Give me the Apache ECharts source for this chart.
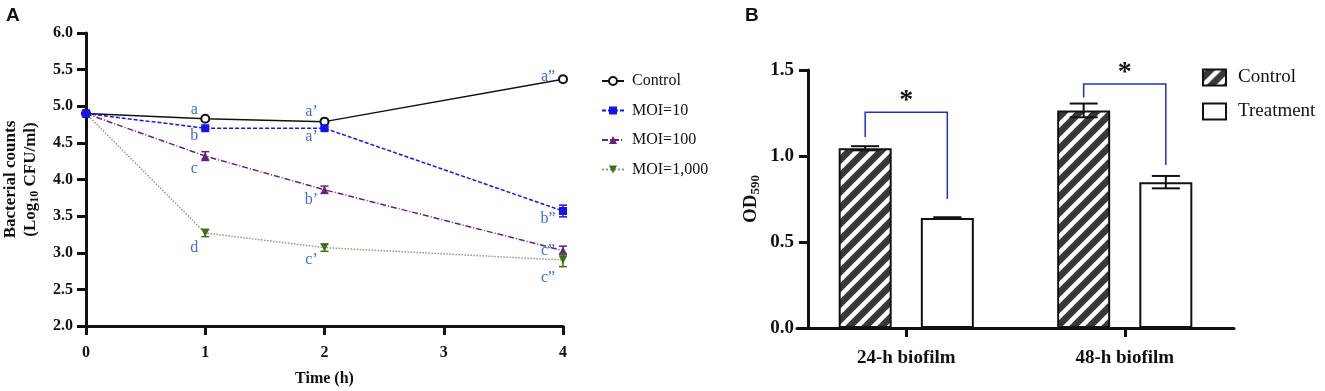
<!DOCTYPE html>
<html>
<head>
<meta charset="utf-8">
<script src="https://cdn.jsdelivr.net/npm/echarts@6/dist/echarts.min.js"></script>
<style>
  html, body { margin: 0; padding: 0; background: #fff; }
  #main { width: 1325px; height: 391px; }
</style>
</head>
<body>
<div id="main"></div>
<script>
// panel A - bacterial counts over time
const times = [0, 1, 2, 4]
const controlMean = [4.9, 4.83, 4.79, 5.37]
const moi10Mean = [4.9, 4.70, 4.70, 3.57]
const moi100Mean = [4.9, 4.32, 3.86, 3.03]
const moi1000Mean = [4.9, 3.27, 3.07, 2.90]
const controlSd = [0, 0, 0, 0]
const moi10Sd = [0, 0.02, 0.02, 0.08]
const moi100Sd = [0, 0.06, 0.05, 0.06]
const moi1000Sd = [0, 0.05, 0.05, 0.09]
const controlLetters = ['', 'a', 'a’', 'a”']
const moi10Letters = ['', 'b', 'a’', 'b”']
const moi100Letters = ['', 'c', 'b’', 'c”']
const moi1000Letters = ['', 'd', 'c’', 'c”']
const yTicksA = [2, 6, 0.5]

// panel B - biofilm OD590
const biofilmCats = ['24-h biofilm', '48-h biofilm']
const odControl = [1.045, 1.265]
const odControlSd = [0.012, 0.04]
const odTreatment = [0.64, 0.848]
const odTreatmentSd = [0.004, 0.036]
const bracketLeft = [1.11, 1.34]
const bracketTop = [1.255, 1.418]
const bracketRight = [0.75, 0.948]
const sigMarks = ['*', '*']

// layout (px)
const SERIF = 'Liberation Serif'
const letterColor = '#3a6fd6'
const letterOffsets = [
  [[0, 0], [-11, -9], [-13, -10], [-15, -2]],
  [[0, 0], [-11, 8], [-13, 9], [-15, 8]],
  [[0, 0], [-11, 13], [-13, 10], [-15, 0]],
  [[0, 0], [-11, 15], [-13, 12], [-15, 18]]
]
const barW = 53
const barGap = 0.55
const barOffset = barW * (1 + barGap) / 2
const capA = 4
const capB = 14

function hatch () {
  const c = document.createElement('canvas')
  c.width = 16
  c.height = 16
  const g = c.getContext('2d')
  g.fillStyle = '#383838'
  g.fillRect(0, 0, 16, 16)
  g.strokeStyle = '#ffffff'
  g.lineWidth = 4.5
  for (let k = -16; k <= 16; k += 16) {
    g.beginPath()
    g.moveTo(k - 2, 18)
    g.lineTo(k + 18, -2)
    g.stroke()
  }
  return c
}

function lineSeries (name, mean, letters, offs, color, lineType, symbol, symbolRotate, lineColor) {
  return {
    name: name,
    type: 'line',
    xAxisIndex: 0,
    yAxisIndex: 0,
    data: times.map((t, i) => ({
      value: [t, mean[i]],
      label: { show: letters[i] !== '', offset: offs[i] }
    })),
    symbol: symbol,
    symbolSize: 8,
    symbolRotate: symbolRotate,
    itemStyle: { color: color, borderColor: color, borderWidth: symbol === 'emptyCircle' ? 1.5 : 0 },
    lineStyle: { color: lineColor || color, width: 1.5, type: lineType },
    label: {
      position: 'inside',
      color: letterColor,
      fontFamily: SERIF,
      fontSize: 16,
      formatter: p => letters[p.dataIndex]
    },
    emphasis: { disabled: true },
    z: 3
  }
}

function errSeriesA (mean, sd, color) {
  return {
    type: 'custom',
    xAxisIndex: 0,
    yAxisIndex: 0,
    encode: { x: 0, y: [1, 2] },
    data: times.map((t, i) => [t, mean[i] - sd[i], mean[i] + sd[i]]).filter((d, i) => sd[i] > 0),
    renderItem: (params, api) => {
      const lo = api.coord([api.value(0), api.value(1)])
      const hi = api.coord([api.value(0), api.value(2)])
      const st = { stroke: color, lineWidth: 1.5 }
      return {
        type: 'group',
        children: [
          { type: 'line', shape: { x1: lo[0], y1: lo[1], x2: hi[0], y2: hi[1] }, style: st },
          { type: 'line', shape: { x1: lo[0] - capA, y1: lo[1], x2: lo[0] + capA, y2: lo[1] }, style: st },
          { type: 'line', shape: { x1: hi[0] - capA, y1: hi[1], x2: hi[0] + capA, y2: hi[1] }, style: st }
        ]
      }
    },
    z: 4
  }
}

function errSeriesB (mean, sd, side) {
  return {
    type: 'custom',
    xAxisIndex: 1,
    yAxisIndex: 1,
    encode: { x: 0, y: [1, 2] },
    data: mean.map((m, i) => [i, m - sd[i], m + sd[i]]),
    renderItem: (params, api) => {
      const lo = api.coord([api.value(0), api.value(1)])
      const hi = api.coord([api.value(0), api.value(2)])
      const x = lo[0] + side * barOffset
      const st = { stroke: '#111', lineWidth: 2 }
      return {
        type: 'group',
        children: [
          { type: 'line', shape: { x1: x, y1: lo[1], x2: x, y2: hi[1] }, style: st },
          { type: 'line', shape: { x1: x - capB, y1: lo[1], x2: x + capB, y2: lo[1] }, style: st },
          { type: 'line', shape: { x1: x - capB, y1: hi[1], x2: x + capB, y2: hi[1] }, style: st }
        ]
      }
    },
    z: 5
  }
}

const chart = echarts.init(document.getElementById('main'))
const axisLine = { show: true, lineStyle: { color: '#111', width: 3 } }
const axisTick = { show: true, length: 9, lineStyle: { color: '#111', width: 3 } }
const tickFont = { color: '#111', fontFamily: SERIF, fontWeight: 'bold', fontSize: 16 }

chart.setOption({
  animation: false,
  title: [
    { text: 'A', left: 1, top: 1, textStyle: { fontFamily: 'Liberation Sans', fontWeight: 'bold', fontSize: 19, color: '#111' } },
    { text: 'B', left: 740, top: 1, textStyle: { fontFamily: 'Liberation Sans', fontWeight: 'bold', fontSize: 19, color: '#111' } }
  ],
  grid: [
    { left: 86, top: 33, width: 477, height: 293, outerBoundsMode: 'none' },
    { left: 797, top: 70, width: 437, height: 258, outerBoundsMode: 'none' }
  ],
  legend: [
    {
      orient: 'vertical',
      left: 596,
      top: 68,
      itemWidth: 22,
      itemHeight: 10,
      itemGap: 13.5,
      data: ['Control', 'MOI=10', 'MOI=100', 'MOI=1,000'],
      textStyle: { fontFamily: SERIF, fontSize: 16, color: '#111', padding: [0, 0, 0, 3] }
    },
    {
      orient: 'vertical',
      left: 1197,
      top: 63,
      itemWidth: 23,
      itemHeight: 16,
      itemGap: 15,
      icon: 'rect',
      data: ['Control ', 'Treatment'],
      textStyle: { fontFamily: SERIF, fontSize: 19, color: '#111', padding: [0, 0, 0, 7] }
    }
  ],
  xAxis: [
    {
      gridIndex: 0,
      type: 'value',
      min: 0,
      max: 4,
      interval: 1,
      name: 'Time (h)',
      nameLocation: 'middle',
      nameGap: 45,
      nameTextStyle: { fontFamily: SERIF, fontWeight: 'bold', fontSize: 16, color: '#111' },
      axisLine: axisLine,
      axisTick: axisTick,
      splitLine: { show: false },
      axisLabel: Object.assign({ margin: 19 }, tickFont)
    },
    {
      gridIndex: 1,
      type: 'category',
      data: biofilmCats,
      axisLine: axisLine,
      axisTick: Object.assign({ alignWithLabel: true }, axisTick),
      axisLabel: Object.assign({}, tickFont, { fontSize: 19, margin: 21 })
    }
  ],
  yAxis: [
    {
      gridIndex: 0,
      type: 'value',
      min: yTicksA[0],
      max: yTicksA[1],
      interval: yTicksA[2],
      name: '{b|Bacterial counts}\n{b|(Log}{s|10}{b| CFU/ml)}',
      nameLocation: 'middle',
      nameGap: 45,
      nameTextStyle: {
        rich: {
          b: { fontFamily: SERIF, fontWeight: 'bold', fontSize: 17, color: '#111', lineHeight: 20 },
          s: { fontFamily: SERIF, fontWeight: 'bold', fontSize: 12, color: '#111', padding: [8, 0, 0, 0] }
        }
      },
      axisLine: axisLine,
      axisTick: axisTick,
      splitLine: { show: false },
      axisLabel: Object.assign({ margin: 13, formatter: v => v.toFixed(1) }, tickFont)
    },
    {
      gridIndex: 1,
      type: 'value',
      min: 0,
      max: 1.5,
      interval: 0.5,
      offset: -11,
      name: '{b|OD}{s|590}',
      nameLocation: 'middle',
      nameGap: 46,
      nameTextStyle: {
        rich: {
          b: { fontFamily: SERIF, fontWeight: 'bold', fontSize: 19, color: '#111' },
          s: { fontFamily: SERIF, fontWeight: 'bold', fontSize: 13, color: '#111', padding: [9, 0, 0, 0] }
        }
      },
      axisLine: axisLine,
      axisTick: axisTick,
      splitLine: { show: false },
      axisLabel: Object.assign({}, tickFont, { fontSize: 19, margin: 14, formatter: v => v.toFixed(1) })
    }
  ],
  series: [
    lineSeries('MOI=1,000', moi1000Mean, moi1000Letters, letterOffsets[3], '#3d7015', 'dotted', 'triangle', 180, '#8f9f74'),
    lineSeries('MOI=100', moi100Mean, moi100Letters, letterOffsets[2], '#6a1f7c', [6, 2, 1, 2], 'triangle', 0),
    lineSeries('Control', controlMean, controlLetters, letterOffsets[0], '#111111', 'solid', 'emptyCircle', 0),
    lineSeries('MOI=10', moi10Mean, moi10Letters, letterOffsets[1], '#1414f0', [4, 2], 'rect', 0),
    errSeriesA(moi10Mean, moi10Sd, '#1414f0'),
    errSeriesA(moi100Mean, moi100Sd, '#6a1f7c'),
    errSeriesA(moi1000Mean, moi1000Sd, '#3d7015'),
    {
      name: 'Control ',
      type: 'bar',
      xAxisIndex: 1,
      yAxisIndex: 1,
      data: odControl,
      barWidth: barW,
      barGap: (barGap * 100) + '%',
      itemStyle: { color: { image: hatch(), repeat: 'repeat' }, borderColor: '#111', borderWidth: 2 },
      emphasis: { disabled: true }
    },
    {
      name: 'Treatment',
      type: 'bar',
      xAxisIndex: 1,
      yAxisIndex: 1,
      data: odTreatment,
      barWidth: barW,
      itemStyle: { color: '#ffffff', borderColor: '#111', borderWidth: 2 },
      emphasis: { disabled: true }
    },
    errSeriesB(odControl, odControlSd, -1),
    errSeriesB(odTreatment, odTreatmentSd, 1),
    {
      type: 'custom',
      xAxisIndex: 1,
      yAxisIndex: 1,
      encode: { x: 0, y: [1, 2, 3] },
      data: biofilmCats.map((c, i) => [i, bracketLeft[i], bracketTop[i], bracketRight[i]]),
      renderItem: (params, api) => {
        const i = api.value(0)
        const l = api.coord([i, api.value(1)])
        const t = api.coord([i, api.value(2)])
        const r = api.coord([i, api.value(3)])
        const x1 = l[0] - barOffset
        const x2 = l[0] + barOffset
        return {
          type: 'group',
          children: [
            {
              type: 'polyline',
              shape: { points: [[x1, l[1]], [x1, t[1]], [x2, t[1]], [x2, r[1]]] },
              style: { stroke: '#2030d0', lineWidth: 1.5, fill: null }
            },
            {
              type: 'text',
              x: l[0],
              y: t[1] - 11,
              style: {
                text: sigMarks[params.dataIndex],
                fontFamily: SERIF,
                fontWeight: 'bold',
                fontSize: 28,
                fill: '#111',
                align: 'center',
                verticalAlign: 'middle'
              }
            }
          ]
        }
      },
      z: 6
    }
  ]
})
</script>
</body>
</html>
